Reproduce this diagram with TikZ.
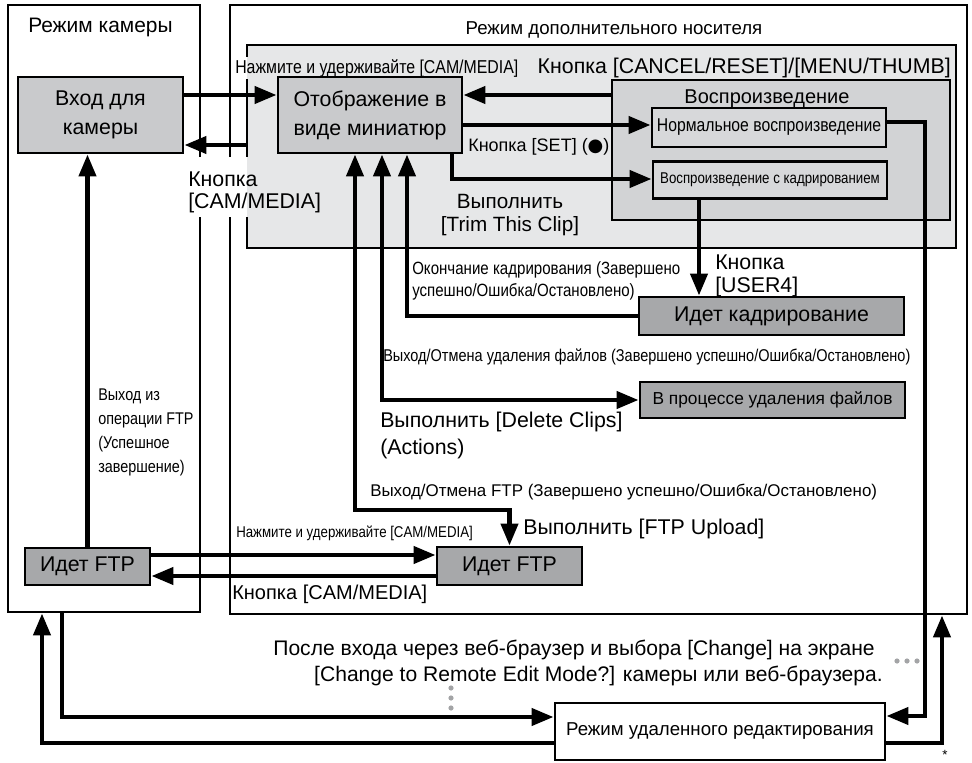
\documentclass[tikz,border=0pt]{standalone}
\usepackage{fontspec}
\setmainfont{Liberation Sans}
\newfontfamily\condfont[FakeStretch=0.85]{Liberation Sans}
\newfontfamily\symfont{DejaVu Sans}
\usetikzlibrary{arrows.meta}
\definecolor{areagray}{HTML}{E6E7E8}
\definecolor{boxgray}{HTML}{C9CACC}
\definecolor{playgray}{HTML}{D2D3D5}
\definecolor{innergray}{HTML}{D7D8DA}
\definecolor{darkbox}{HTML}{A7A8AA}
\definecolor{dotgray}{HTML}{A3A4A6}
\newcommand\fsz[2]{\fontsize{#1}{#2}\selectfont}
\begin{document}
\begin{tikzpicture}[x=0.75pt,y=-0.75pt,
  frame/.style={draw=black,line width=1.95pt,inner sep=0pt},
  sz/.style 2 args={minimum width=#1*0.75pt,minimum height=#2*0.75pt},
  conn/.style={line width=3.6pt,-{Triangle[length=16.5pt,width=12.5pt]}},
  both/.style={line width=3.6pt,{Triangle[length=16.5pt,width=12.5pt]}-{Triangle[length=16.5pt,width=12.5pt]}},
  lbl/.style={inner sep=0pt,anchor=base west},
  dots/.style={dotgray,line width=3.9pt,line cap=round,dash pattern=on 0pt off 7.5pt}
]
\useasboundingbox (0,0) rectangle (972,763);

% outer areas
\node[frame,sz={192}{607}] (cammode) at (104,308.5) {};
\node[frame,sz={737}{609}] (mediamode) at (598.5,309.5) {};
\node[frame,fill=areagray,sz={709}{203}] (area) at (601.5,146.5) {};
\node[frame,fill=playgray,sz={338}{140}] (play) at (781,150) {};

% boxes
\node[frame,fill=innergray,sz={234}{39},font=\condfont\fsz{13.9}{16}] (normal) at (769,127.5) {Нормальное воспроизведение};
\node[frame,fill=innergray,sz={234}{37},font=\condfont\fsz{11.7}{14}] (trimplay) at (770,180) {Воспроизведение с кадрированием};
\node[frame,fill=boxgray,sz={165}{76},align=center,font=\fsz{16}{21.75}] (cam) at (100.5,115) {Вход для\\камеры};
\node[frame,fill=boxgray,sz={184}{76},align=center,font=\fsz{16}{21.75}] (thumb) at (370,115) {Отображение в\\виде миниатюр};
\node[frame,fill=darkbox,sz={265}{38},font=\fsz{16}{18}] (trimming) at (771.5,316) {Идет кадрирование};
\node[frame,fill=darkbox,sz={265}{36},font=\fsz{13}{15}] (deleting) at (772.5,400) {В процессе удаления файлов};
\node[frame,fill=darkbox,sz={125}{37},font=\fsz{16}{18}] (ftpL) at (87.5,566.5) {Идет FTP};
\node[frame,fill=darkbox,sz={145}{38},font=\fsz{16}{18}] (ftpR) at (509.5,566) {Идет FTP};
\node[frame,fill=white,sz={330}{57},font=\fsz{14}{16}] (remote) at (720,731.5) {Режим удаленного редактирования};

% knockouts of the border lines behind labels
\fill[white] (196,157) rectangle (247,217);
\fill[areagray] (247,157) rectangle (249.5,217);
\fill[white] (244.5,57) rectangle (247,79);
\fill[areagray] (247,57) rectangle (249.5,79);

% connectors
\draw[conn] (cam.east |- 0,95) -- (thumb.west |- 0,95);
\draw[conn] (area.west |- 0,145) -- (cam.east |- 0,145);
\draw[conn] (play.west |- 0,95) -- (thumb.east |- 0,95);
\draw[conn] (thumb.east |- 0,125) -- (normal.west |- 0,125);
\draw[conn] (thumb.south -| 452,0) -- (452,179) -- (trimplay.west |- 0,179);
\draw[conn] (trimplay.south -| 699,0) -- (trimming.north -| 699,0);
\draw[conn] (trimming.west) -- (407,316) -- (thumb.south -| 407,0);
\draw[both] (thumb.south -| 382,0) -- (382,400) -- (deleting.west);
\draw[both] (thumb.south -| 355,0) -- (355,510) -- (509.5,510) -- (ftpR.north);
\draw[conn] (ftpL.north) -- (cam.south -| ftpL.north);
\draw[conn] (ftpL.east |- 0,555) -- (ftpR.west |- 0,555);
\draw[conn] (ftpR.west |- 0,576) -- (ftpL.east |- 0,576);
\draw[conn] (normal.east |- 0,122) -- (925,122) -- (925,716) -- (remote.east |- 0,716);
\draw[conn] (cammode.south -| 62,0) -- (62,717) -- (remote.west |- 0,717);
\draw[conn] (remote.west |- 0,743) -- (42,743) -- (cammode.south -| 42,0);
\draw[conn] (remote.east |- 0,743) -- (942,743) -- (mediamode.south -| 942,0);

% dotted marks
\draw[dots] (897,661) -- (918,661);
\draw[dots] (451,688) -- (451,716);

% labels
\node[lbl,font=\fsz{15.7}{18}] (camtitle) at (28,32.5) {Режим камеры};
\node[inner sep=0pt,anchor=base,font=\fsz{14}{16}] (medtitle) at (614,34.5) {Режим дополнительного носителя};
\node[lbl,font=\condfont\fsz{14}{16}] (holdtop) at (235,74) {Нажмите и удерживайте [CAM/MEDIA]};
\node[inner sep=0pt,anchor=base east,font=\fsz{16}{18}] (cancel) at (951,74) {Кнопка [CANCEL/RESET]/[MENU/THUMB]};
\node[inner sep=0pt,anchor=base,font=\fsz{15}{17}] (playtitle) at (767,103.5) {Воспроизведение};
\node[lbl,font=\fsz{13.5}{16}] (setlbl) at (468,152) {Кнопка [SET] ({\symfont ●})};
\node[inner sep=0pt,anchor=north west,align=left,font=\fsz{16}{16.5}] (cammedia) at (188,172) {Кнопка\\{}[CAM/MEDIA]};
\node[inner sep=0pt,anchor=north,align=center,font=\fsz{15.5}{17.25}] (trimlbl) at (510,194.5) {Выполнить\\{}[Trim This Clip]};
\node[inner sep=0pt,anchor=north west,align=left,font=\condfont\fsz{13.3}{16.5}] (trimend) at (412,261.5) {Окончание кадрирования (Завершено\\успешно/Ошибка/Остановлено)};
\node[inner sep=0pt,anchor=north west,align=left,font=\fsz{16}{17.25}] (user4) at (715,255) {Кнопка\\{}[USER4]};
\node[lbl,font=\condfont\fsz{12.8}{15}] (delend) at (383,361) {Выход/Отмена удаления файлов (Завершено успешно/Ошибка/Остановлено)};
\node[inner sep=0pt,anchor=north west,align=left,font=\fsz{16}{20}] (dellbl) at (380,412) {Выполнить [Delete Clips]\\(Actions)};
\node[inner sep=0pt,anchor=north west,align=left,font=\condfont\fsz{12.7}{18}] (ftpexit) at (98,388.5) {Выход из\\операции FTP\\(Успешное\\завершение)};
\node[lbl,font=\fsz{12.7}{15}] (ftpend) at (370,496) {Выход/Отмена FTP (Завершено успешно/Ошибка/Остановлено)};
\node[lbl,font=\fsz{16}{18}] (ftplbl) at (523,534) {Выполнить [FTP Upload]};
\node[lbl,font=\condfont\fsz{11.7}{14}] (holdlow) at (236,537) {Нажмите и удерживайте [CAM/MEDIA]};
\node[lbl,font=\fsz{15}{17}] (cammedialow) at (232,599) {Кнопка [CAM/MEDIA]};
\node[inner sep=0pt,anchor=north east,align=right,font=\fsz{15.8}{19.5}] (weblbl) at (883,639.5) {После входа через веб-браузер и выбора [Change] на экране\hspace*{6pt}\\{}[Change to Remote Edit Mode?] камеры или веб-браузера.};
\node[inner sep=0pt,font=\fsz{10}{12}] (star) at (945,755) {*};
\end{tikzpicture}
\end{document}
